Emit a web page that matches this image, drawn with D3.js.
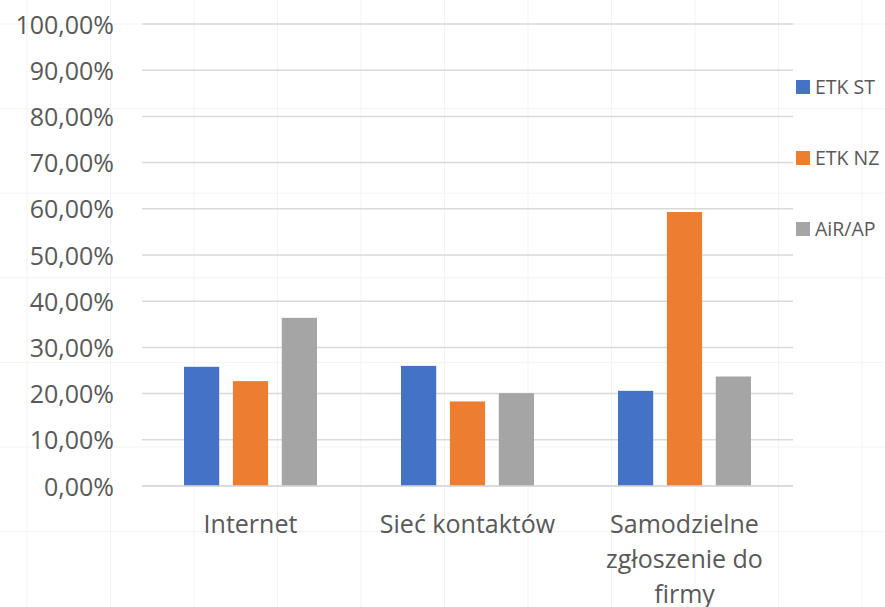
<!DOCTYPE html>
<html>
<head>
<meta charset="utf-8">
<script src="https://cdn.jsdelivr.net/npm/d3@7"></script>
<style>
  html, body { margin: 0; padding: 0; background: #ffffff; }
  svg { display: block; }
  text { font-family: "Open Sans", "Noto Sans", sans-serif; fill: #595959; }
</style>
</head>
<body>
<svg id="chart" width="885" height="607"></svg>
<script>
// Data
const categories = ["Internet", "Sieć kontaktów", "Samodzielne zgłoszenie do firmy"];
const categoryLines = [["Internet"], ["Sieć kontaktów"], ["Samodzielne", "zgłoszenie do", "firmy"]];
const seriesNames = ["ETK ST", "ETK NZ", "AiR/AP"];
const etkST = [0.258, 0.260, 0.206];
const etkNZ = [0.227, 0.183, 0.593];
const airAP = [0.364, 0.201, 0.237];
const seriesColors = ["#4472c4", "#ed7d31", "#a5a5a5"];
const yTicks = [0, 0.1, 0.2, 0.3, 0.4, 0.5, 0.6, 0.7, 0.8, 0.9, 1.0];

const seriesValues = [etkST, etkNZ, airAP];
const W = 885, H = 607;
const plot = { left: 142, right: 793, top: 24, bottom: 486 };

const svg = d3.select("#chart");

// Faint worksheet cell grid behind the chart
const sheetCols = d3.range(27, W, 83.5);
const sheetRows = d3.range(24, H, 84.6);
svg.append("g").selectAll("line.col").data(sheetCols).join("line")
  .attr("x1", d => d).attr("x2", d => d).attr("y1", 0).attr("y2", H)
  .attr("stroke", "#f3f3f3").attr("stroke-width", 1);
svg.append("g").selectAll("line.row").data(sheetRows).join("line")
  .attr("x1", 0).attr("x2", W).attr("y1", d => d).attr("y2", d => d)
  .attr("stroke", "#f3f3f3").attr("stroke-width", 1);

const x0 = d3.scaleBand().domain(categories).range([plot.left, plot.right]).paddingInner(0).paddingOuter(0);
const x1 = d3.scaleBand().domain(seriesNames).range([42, x0.bandwidth() - 42]).paddingInner(0.28).paddingOuter(0);
const y = d3.scaleLinear().domain([0, 1]).range([plot.bottom, plot.top]);

const fmt = v => d3.format(".2f")(v * 100).replace(".", ",") + "%";

// Gridlines
svg.append("g").selectAll("line").data(yTicks).join("line")
  .attr("x1", plot.left).attr("x2", plot.right)
  .attr("y1", d => y(d)).attr("y2", d => y(d))
  .attr("stroke", "#d9d9d9").attr("stroke-width", 1.5);

// Y axis labels
const yAxis = d3.axisLeft(y).tickValues(yTicks).tickFormat(fmt).tickSize(0).tickPadding(0);
const yg = svg.append("g").attr("transform", `translate(114,0)`).call(yAxis);
yg.select(".domain").remove();
yg.selectAll("text").attr("font-size", 25).attr("fill", "#595959")
  .attr("font-family", "'Open Sans', sans-serif").attr("dy", "0.36em");

// Bars
const groups = svg.append("g").selectAll("g").data(categories).join("g")
  .attr("transform", c => `translate(${x0(c)},0)`);
groups.selectAll("rect").data((c, i) => seriesNames.map((s, j) => ({ s, j, v: seriesValues[j][i] })))
  .join("rect")
  .attr("x", d => x1(d.s))
  .attr("width", x1.bandwidth())
  .attr("y", d => y(d.v))
  .attr("height", d => y(0) - y(d.v))
  .attr("fill", d => seriesColors[d.j]);

// Baseline
svg.append("line").attr("x1", plot.left).attr("x2", plot.right)
  .attr("y1", y(0)).attr("y2", y(0)).attr("stroke", "#d9d9d9").attr("stroke-width", 1.5);

// Category labels (the last line runs past the bottom edge)
const catG = svg.append("g").selectAll("text").data(categories).join("text")
  .attr("text-anchor", "middle")
  .attr("font-size", 25)
  .attr("x", c => x0(c) + x0.bandwidth() / 2)
  .attr("y", 533);
catG.selectAll("tspan").data((c, i) => categoryLines[i]).join("tspan")
  .attr("x", function () { return d3.select(this.parentNode).attr("x"); })
  .attr("dy", (d, i) => i === 0 ? 0 : 35)
  .text(d => d);

// Legend
const legend = svg.append("g").selectAll("g").data(seriesNames).join("g")
  .attr("transform", (d, i) => `translate(796, ${87 + i * 71})`);
legend.append("rect").attr("x", 0).attr("y", -7).attr("width", 14).attr("height", 14)
  .attr("fill", (d, i) => seriesColors[i]);
legend.append("text").attr("x", 19).attr("y", 0).attr("dy", "0.36em")
  .attr("font-size", 19.5).text(d => d);
</script>
</body>
</html>
